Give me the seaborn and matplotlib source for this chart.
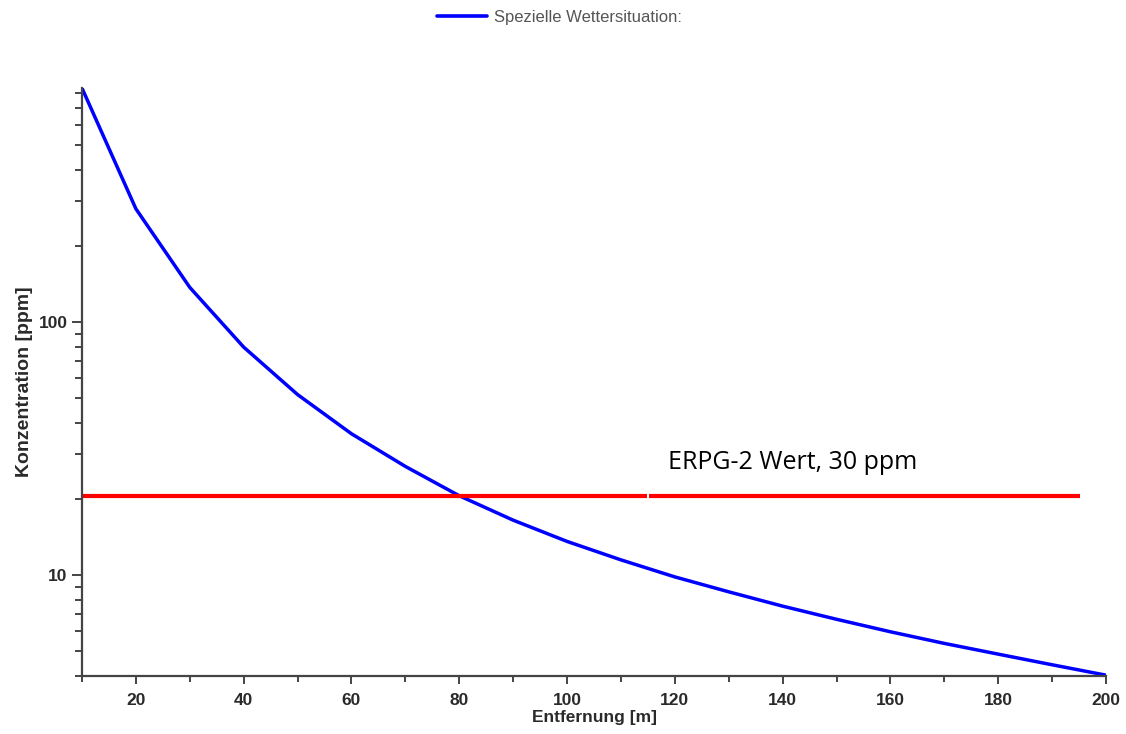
import matplotlib
matplotlib.use("Agg")
import matplotlib.pyplot as plt
import matplotlib.ticker as mticker
import seaborn as sns
import pandas as pd

# ---- data ----
distance_m = [10, 20, 30, 40, 50, 60, 70, 80, 90, 100,
              110, 120, 130, 140, 150, 160, 170, 180, 190, 200]
concentration_ppm = [839, 280, 137, 79.6, 51.7, 36.2, 26.9, 20.6, 16.5, 13.6,
                     11.5, 9.85, 8.6, 7.55, 6.7, 5.98, 5.38, 4.88, 4.43, 4.03]
series_name = "Spezielle Wettersituation:"

erpg_level = 20.5
erpg_seg1_x = [10, 114.75]
erpg_seg2_x = [115.2, 195.2]
erpg_label = "ERPG-2 Wert, 30 ppm"

x_ticks = [20, 40, 60, 80, 100, 120, 140, 160, 180, 200]
y_ticks = [10, 100]
x_label = "Entfernung [m]"
y_label = "Konzentration [ppm]"

sns.set_theme(style="white")
plt.rcParams["font.family"] = ["Liberation Sans", "DejaVu Sans"]

fig = plt.figure(figsize=(11.26, 7.34), dpi=100)
ax = fig.add_axes([82 / 1126, 1 - 676 / 734, (1106 - 82) / 1126, (676 - 88) / 734])

df = pd.DataFrame({"x": distance_m, "y": concentration_ppm, "s": series_name})
sns.lineplot(data=df, x="x", y="y", hue="s", palette=["#0000ff"], linewidth=2.5,
             ax=ax, legend=False)

seg1 = pd.DataFrame({"x": erpg_seg1_x, "y": [erpg_level] * 2})
seg2 = pd.DataFrame({"x": erpg_seg2_x, "y": [erpg_level] * 2})
for seg in (seg1, seg2):
    sns.lineplot(data=seg, x="x", y="y", color="#ff0000", linewidth=3, ax=ax,
                 solid_capstyle="butt")

ax.set_yscale("log")
ax.set_xlim(10, 200)
ax.set_ylim(4.0, 840)

ax.set_xticks(x_ticks)
ax.xaxis.set_minor_locator(mticker.MultipleLocator(10))
ax.set_yticks(y_ticks)
ax.yaxis.set_major_formatter(mticker.FixedFormatter([str(v) for v in y_ticks]))
ax.yaxis.set_minor_locator(mticker.LogLocator(base=10, subs=range(2, 10)))
ax.yaxis.set_minor_formatter(mticker.NullFormatter())

for side in ["top", "right"]:
    ax.spines[side].set_visible(False)
for side in ["left", "bottom"]:
    ax.spines[side].set_color("#444444")
    ax.spines[side].set_linewidth(1.6)

ax.tick_params(axis="x", which="major", length=6, pad=6)
ax.tick_params(axis="x", which="minor", length=4)
ax.tick_params(axis="y", which="major", length=7.5, pad=3)
ax.tick_params(axis="y", which="minor", length=5)
ax.tick_params(axis="both", which="both", direction="out", width=1.4,
               color="#444444", bottom=True, left=True)
ax.tick_params(axis="both", which="major", labelsize=12.5, labelcolor="#2a2a2a")
for lab in ax.get_xticklabels() + ax.get_yticklabels():
    lab.set_fontweight("bold")

ax.set_xlabel(x_label, fontsize=12.5, fontweight="bold", color="#2a2a2a", labelpad=2)
ax.set_ylabel(y_label, fontsize=14, fontweight="bold", color="#2a2a2a", labelpad=4)

ax.text(118.8, 28.0, erpg_label, fontsize=18, family=["Open Sans", "DejaVu Sans"],
        color="black", va="center", ha="left")

# legend at top
handle = plt.Line2D([], [], color="#0000ff", linewidth=2.6)
fig.legend([handle], [series_name], loc="upper center", bbox_to_anchor=(0.497, 1.0),
           frameon=False, fontsize=12, handlelength=3.0, handletextpad=0.4,
           labelcolor="#555555", borderaxespad=0.2)

fig.savefig("out.png", dpi=100)
